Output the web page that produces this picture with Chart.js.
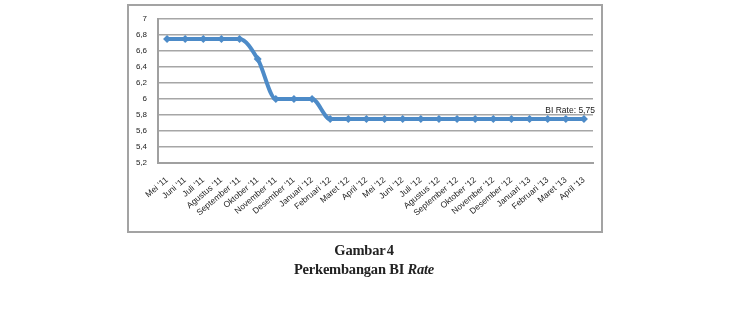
<!DOCTYPE html>
<html>
<head>
<meta charset="utf-8">
<script src="https://cdn.jsdelivr.net/npm/chart.js@4"></script>
<style>
  html, body { margin: 0; padding: 0; background: #fff; }
  body { width: 734px; height: 333px; position: relative; overflow: hidden; }
  #frame { position: absolute; left: 127px; top: 4px; width: 472px; height: 225px; border: 2px solid #a3a3a3; }
  #wrap { position: absolute; left: 0; top: 0; width: 734px; height: 333px; }
  .cap { position: absolute; left: 0; width: 728px; text-align: center; font-family: "Liberation Serif", "Times New Roman", serif; font-weight: bold; font-size: 14.5px; color: #222; letter-spacing: -0.2px; }
</style>
</head>
<body>
<div id="frame"></div>
<div id="wrap"><canvas id="c" width="734" height="333"></canvas></div>
<div class="cap" style="top:242px; word-spacing:-2px;">Gambar 4</div>
<div class="cap" style="top:261px;">Perkembangan BI <i>Rate</i></div>
<script>
const categories = ["Mei '11","Juni '11","Juli '11","Agustus '11","September '11","Oktober '11","November '11","Desember '11","Januari '12","Februari '12","Maret '12","April '12","Mei '12","Juni '12","Juli '12","Agustus '12","September '12","Oktober '12","November '12","Desember '12","Januari '13","Februari '13","Maret '13","April '13"];
const biRate = [6.75,6.75,6.75,6.75,6.75,6.5,6.0,6.0,6.0,5.75,5.75,5.75,5.75,5.75,5.75,5.75,5.75,5.75,5.75,5.75,5.75,5.75,5.75,5.75];
const yMin = 5.2, yMax = 7, yStep = 0.2;
const lastLabel = "BI Rate: 5,75";

const labelPlugin = {
  id: 'lastLabel',
  afterDatasetsDraw(chart) {
    const meta = chart.getDatasetMeta(0);
    const p = meta.data[meta.data.length - 1];
    const ctx = chart.ctx;
    ctx.save();
    ctx.font = '8.5px "Liberation Sans", Arial, sans-serif';
    ctx.fillStyle = '#1a1a1a';
    ctx.textAlign = 'right';
    ctx.textBaseline = 'middle';
    ctx.fillText(lastLabel, p.x + 11, p.y - 8);
    ctx.restore();
  }
};

new Chart(document.getElementById('c'), {
  type: 'line',
  data: {
    labels: categories,
    datasets: [{
      data: biRate,
      borderColor: '#4d8bc8',
      backgroundColor: '#4d8bc8',
      borderWidth: 4,
      pointStyle: 'rectRot',
      pointRadius: 4,
      pointBorderWidth: 0,
      cubicInterpolationMode: 'monotone',
      fill: false
    }]
  },
  options: {
    responsive: false,
    animation: false,
    devicePixelRatio: 1,
    layout: { padding: { left: 128, top: 19, right: 141, bottom: 100 } },
    plugins: { legend: { display: false }, tooltip: { enabled: false } },
    scales: {
      x: {
        offset: true,
        grid: { display: false, drawTicks: false },
        border: { display: true, color: '#a0a0a0', width: 2 },
        ticks: {
          autoSkip: false,
          minRotation: 40,
          maxRotation: 40,
          padding: 12,
          color: '#222',
          font: { family: '"Liberation Sans", Arial, sans-serif', size: 8.5 }
        },
        afterFit(s) { s.height = 70; }
      },
      y: {
        min: yMin, max: yMax,
        grid: { color: '#a6a6a6', lineWidth: 1.5, drawTicks: false },
        border: { display: true, color: '#a0a0a0', width: 2 },
        ticks: {
          stepSize: yStep,
          padding: 11,
          color: '#222',
          font: { family: '"Liberation Sans", Arial, sans-serif', size: 8 },
          callback: v => (Math.round(v * 10) / 10).toString().replace('.', ',')
        },
        afterFit(s) { s.width = 30; }
      }
    }
  },
  plugins: [labelPlugin]
});
</script>
</body>
</html>
